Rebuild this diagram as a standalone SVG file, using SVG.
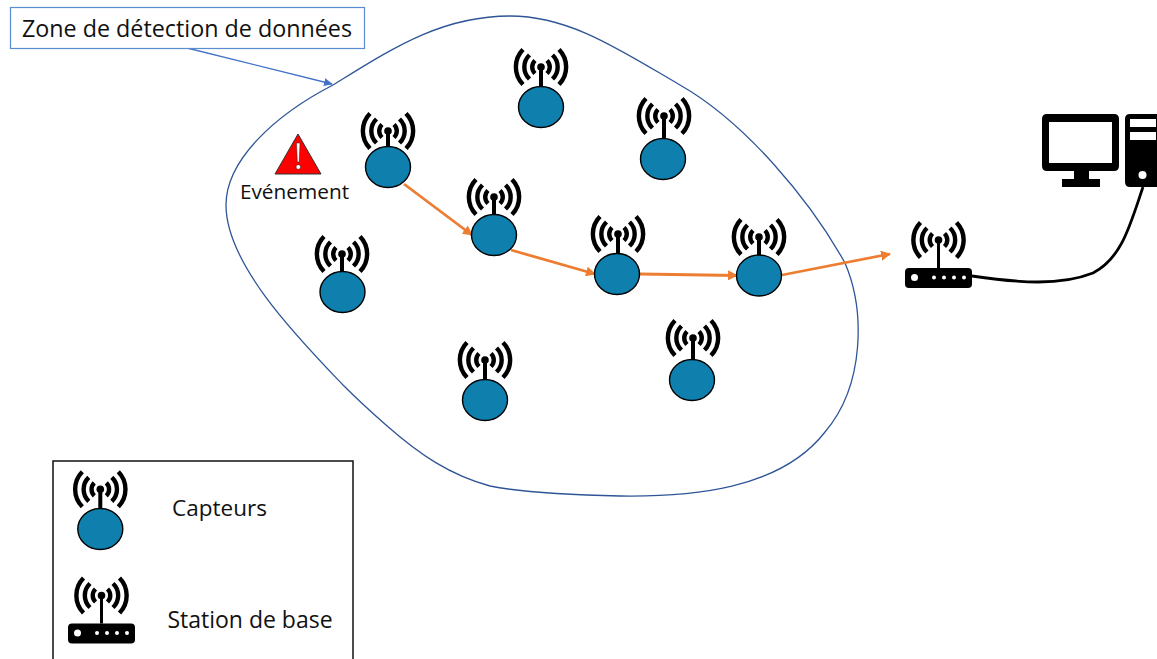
<svg xmlns="http://www.w3.org/2000/svg" width="1157" height="659" viewBox="0 0 1157 659">
<style>
text{font-family:"Open Sans","Noto Sans",sans-serif;fill:#111}
.w{fill:none;stroke:#000;stroke-width:4.4}
.o{fill:none;stroke:#ed7d31;stroke-width:2.8;marker-end:url(#oa)}
.s{fill:#0f7fad;stroke:#000;stroke-width:1.4}
</style>
<defs>
<marker id="oa" markerUnits="userSpaceOnUse" markerWidth="10" markerHeight="10" refX="9" refY="5" orient="auto"><path d="M0 0L10 5L0 10Z" fill="#ed7d31"/></marker>
<marker id="ba" markerUnits="userSpaceOnUse" markerWidth="9" markerHeight="8" refX="8" refY="4" orient="auto"><path d="M0 0L9 4L0 8Z" fill="#4472c4"/></marker>
<g id="waves">
<circle r="3.8" fill="#000"/>
<path class="w" d="M-6 -6.500A9 9 0 0 0 -6 6.500M6 -6.500A9 9 0 0 1 6 6.500M-11.500 -12A16.500 16.500 0 0 0 -11.500 12M11.500 -12A16.500 16.500 0 0 1 11.500 12M-18 -17.500A25 25 0 0 0 -18 17.500M18 -17.500A25 25 0 0 1 18 17.500"/>
</g>
<ellipse id="body" class="s" rx="22.500" ry="20.500"/>
<g id="station">
<use href="#waves"/>
<rect x="-1.500" width="3" height="28"/>
<rect x="-33.500" y="28" width="67" height="20" rx="4"/>
<circle cx="-24" cy="37.500" r="3.500" fill="#fff"/>
<g fill="#fff"><circle cx="-4.500" cy="37.500" r="2"/><circle cx="5.500" cy="37.500" r="2"/><circle cx="15.500" cy="37.500" r="2"/><circle cx="25.500" cy="37.500" r="2"/></g>
</g>
</defs>
<g id="zone"><path d="M226 205C226 160 275 115 333 85C390 50 440 16 510 16C570 16 620 50 680 85C745 122 810 200 845 263C865 310 865 385 825 432C780 490 690 497 620 496C570 495 520 492 490 486C450 475 420 455 386 425C370 411 355 397 343 385C300 340 226 265 226 205Z" fill="none" stroke="#2f5597" stroke-width="1.300"/></g>
<g id="connectors">
<path d="M187 48L332 84" fill="none" stroke="#4472c4" stroke-width="1.300" marker-end="url(#ba)"/>
<path class="o" d="M404 184L472 235"/>
<path class="o" d="M511 250L595 274"/>
<path class="o" d="M640 274L737 275.500"/>
<path class="o" d="M782 275L890 254"/>
<path d="M972 276C1020 283 1060 286 1093 273C1122 258 1130 225 1143 187" fill="none" stroke="#000" stroke-width="2.800"/>
</g>
<g id="label-zone"><rect x="10.500" y="7.500" width="354" height="41" fill="#fff" stroke="#5b8bd0" stroke-width="1.200"/><text x="187" y="37" font-size="23.300" text-anchor="middle">Zone de détection de données</text></g>
<g id="event">
<path d="M298 134L321 174H275Z" fill="#f00" stroke="#333" stroke-width="1" stroke-linejoin="round"/>
<path d="M296.500 143H300L299.200 162H297.300Z" fill="#fff" stroke="#222" stroke-width=".5"/><circle cx="298.300" cy="167" r="2.300" fill="#fff" stroke="#222" stroke-width=".5"/>
<text x="294.500" y="199" font-size="20.800" text-anchor="middle">Evénement</text>
</g>
<g id="s1"><use href="#waves" x="388" y="131"/><rect x="386" y="131" width="4" height="18"/><use href="#body" x="388" y="167"/></g>
<g id="s2"><use href="#waves" x="494" y="197"/><rect x="492" y="197" width="4" height="20"/><use href="#body" x="494" y="235"/></g>
<g id="s3"><use href="#waves" x="618" y="234"/><rect x="616" y="234" width="4" height="22"/><use href="#body" x="617" y="274"/></g>
<g id="s4"><use href="#waves" x="759" y="237"/><rect x="757" y="237" width="4" height="20"/><use href="#body" x="759" y="275.500"/></g>
<g id="s5"><use href="#waves" x="541" y="67"/><rect x="539" y="67" width="4" height="22"/><use href="#body" x="541" y="107"/></g>
<g id="s6"><use href="#waves" x="664" y="116"/><rect x="662" y="116" width="4" height="25"/><use href="#body" x="663" y="159"/></g>
<g id="s7"><use href="#waves" x="342" y="254"/><rect x="340" y="254" width="4" height="20"/><use href="#body" x="342.500" y="292"/></g>
<g id="s8"><use href="#waves" x="485" y="360"/><rect x="483" y="360" width="4" height="22"/><use href="#body" x="485" y="400"/></g>
<g id="s9"><use href="#waves" x="693" y="338"/><rect x="691" y="338" width="4" height="25"/><use href="#body" x="692" y="380"/></g>
<use id="base" href="#station" x="938.500" y="240"/>
<g id="computer">
<path fill-rule="evenodd" d="M1047 114H1114Q1119 114 1119 119V166Q1119 171 1114 171H1089V179H1100V187H1062V179H1074V171H1047Q1042 171 1042 166V119Q1042 114 1047 114ZM1049 122V163H1112V122Z"/>
<path fill-rule="evenodd" d="M1130 114H1157V187H1130Q1125 187 1125 182V119Q1125 114 1130 114ZM1130 119V127H1156V119ZM1130 132V140H1156V132Z"/>
<circle cx="1142.500" cy="175" r="4" fill="#fff"/>
</g>
<g id="legend">
<rect x="53" y="461" width="300" height="210" fill="none" stroke="#111" stroke-width="1.500"/>
<g id="legend-sensor"><use href="#waves" x="100.300" y="489.300"/><rect x="98.300" y="489" width="4" height="22"/><use href="#body" x="100.300" y="529"/></g>
<use id="legend-station" href="#station" x="101.500" y="595.500"/>
<text x="219.500" y="516" font-size="22.500" text-anchor="middle">Capteurs</text>
<text x="250" y="627.500" font-size="23" text-anchor="middle">Station de base</text>
</g>
</svg>
